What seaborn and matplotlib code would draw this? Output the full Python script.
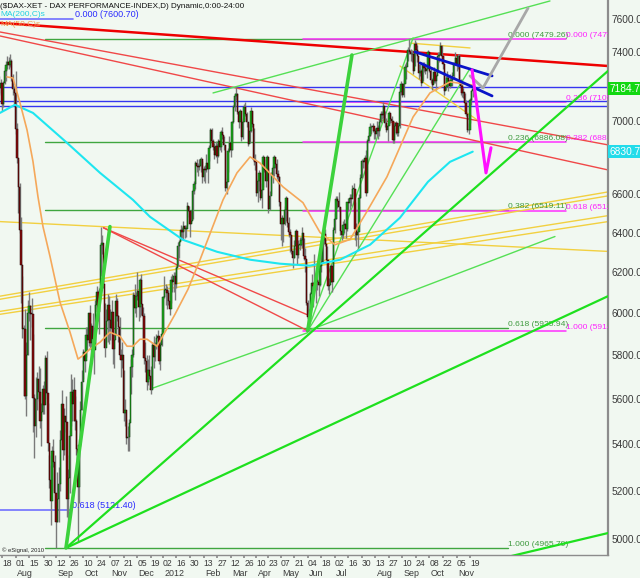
import numpy as np
import pandas as pd
import matplotlib
matplotlib.use("Agg")
import matplotlib.pyplot as plt
import matplotlib.transforms as mtrans
from matplotlib.ticker import FixedLocator, NullLocator, FuncFormatter
import seaborn as sns

# ---------------- data ----------------
holidays = ["2011-12-26", "2012-04-06", "2012-04-09", "2012-05-01"]

close = [
 7192, 7220,
 7096, 7216, 7290, 7324, 7344,
 7326, 7345, 7253, 7186, 7158,
 6954, 6797, 6637, 6414, 6236,
 5923, 5923, 5613, 5798, 5998,
 6034, 5995, 5994, 5602, 5480,
 5600, 5689, 5632, 5500, 5538,
 5645, 5572, 5785, 5627, 5405,
 5246, 5156, 5371, 5320, 5190,
 5072, 5166, 5227, 5417, 5574,
 5373, 5523, 5496, 5164, 5253,
 5434, 5628, 5577, 5639, 5502,
 5376, 5217, 5396, 5550, 5675,
 5815, 5772, 5896, 5870, 5999,
 5857, 5939, 5876, 5822, 6040,
 6103, 6006, 6095, 6338, 6346,
 6141, 5834, 5960, 6040, 5967,
 5929, 6006, 5829, 5868, 6057,
 5985, 5934, 5800, 5776, 5800,
 5534, 5549, 5424, 5428, 5493,
 5745, 5800, 6088, 6023, 6080,
 6106, 6028, 6159, 6044, 5987,
 5785, 5774, 5675, 5730, 5701,
 5640, 5847, 5791, 5850, 5878,
 5889, 5771, 5848, 5898,
 6075, 6111, 6112, 6095, 6057,
 6017, 6163, 6152, 6179, 6143,
 6220, 6332, 6354, 6416, 6404,
 6436, 6419, 6421, 6539, 6512,
 6444, 6458, 6616, 6655, 6766,
 6754, 6748, 6755, 6788, 6692,
 6737, 6728, 6770, 6735, 6849,
 6948, 6892, 6855, 6810, 6864,
 6809, 6887, 6856, 6941, 6921,
 6866, 6633, 6667, 6833, 6880,
 6842, 6995, 7079, 7144, 7157,
 7054, 6997, 7056, 6910, 6996,
 7079, 7038, 6998, 6875, 6947,
 7056, 6982, 6784, 6775,
 6606, 6674, 6716, 6583,
 6624, 6801, 6732, 6671, 6801,
 6523, 6590, 6704, 6739, 6801,
 6761, 6710, 6694, 6561,
 6444, 6475, 6444, 6518, 6579,
 6452, 6401, 6386, 6308, 6271,
 6332, 6406, 6284, 6339, 6339,
 6363, 6400, 6282, 6264, 6050,
 5978, 5970, 6093, 6144, 6131,
 6141, 6162, 6152, 6138, 6229,
 6248, 6363, 6392, 6343, 6263,
 6132, 6136, 6228, 6150, 6416,
 6472, 6578, 6566, 6535, 6410,
 6387, 6438, 6444, 6419, 6557,
 6553, 6579, 6574, 6630, 6630,
 6419, 6390, 6405, 6583, 6690,
 6778, 6772, 6795, 6606, 6889,
 6918, 6967, 6966, 6975, 6944,
 6929, 6964, 6947, 6996, 7041,
 7034, 7089, 6990, 6950, 6971,
 7048, 7014, 7003, 6896, 6971,
 6990, 6932, 6975, 7167, 7214,
 7152, 7210, 7311, 7310, 7412,
 7403, 7388, 7390, 7290, 7451,
 7413, 7380, 7276, 7290, 7216,
 7326, 7305, 7291, 7298, 7398,
 7291, 7234, 7205, 7281, 7233,
 7262, 7376, 7381, 7437, 7380,
 7328, 7173, 7196, 7248, 7232,
 7203, 7238, 7260, 7335, 7364,
 7327, 7377, 7232, 7204, 7163,
 7169, 7101, 7043, 6950, 6951,
 7123, 7172, 7184.71,
]

high = [
 7260, 7240,
 7190, 7230, 7310, 7350, 7380,
 7370, 7390, 7360, 7270, 7200,
 7290, 6990, 6790, 6660, 6480,
 6180, 5940, 6020, 5860, 6060,
 6100, 6040, 6070, 5900, 5620,
 5700, 5720, 5750, 5740, 5580,
 5660, 5680, 5800, 5820, 5580,
 5350, 5310, 5390, 5420, 5350,
 5170, 5280, 5300, 5460, 5640,
 5480, 5560, 5610, 5350, 5290,
 5460, 5710, 5690, 5700, 5610,
 5510, 5360, 5420, 5590, 5730,
 5830, 5820, 5930, 5930, 6000,
 6040, 5950, 6000, 5900, 6060,
 6130, 6110, 6120, 6430, 6390,
 6300, 6050, 6020, 6090, 6080,
 6020, 6060, 5960, 5900, 6090,
 6070, 5990, 5980, 5830, 5860,
 5730, 5600, 5510, 5480, 5510,
 5780, 5830, 6100, 6140, 6100,
 6200, 6100, 6170, 6190, 6030,
 6000, 5860, 5800, 5780, 5800,
 5750, 5860, 5890, 5860, 5900,
 5920, 5890, 5860, 5920,
 6080, 6180, 6140, 6130, 6110,
 6090, 6180, 6190, 6200, 6200,
 6230, 6350, 6360, 6440, 6430,
 6460, 6440, 6440, 6560, 6540,
 6500, 6520, 6630, 6670, 6780,
 6790, 6770, 6790, 6800, 6780,
 6750, 6760, 6820, 6760, 6870,
 6960, 6960, 6900, 6880, 6890,
 6880, 6900, 6930, 6950, 6970,
 6920, 6840, 6690, 6850, 6920,
 6880, 7000, 7090, 7160, 7194,
 7160, 7040, 7070, 7020, 7000,
 7100, 7110, 7050, 6990, 6980,
 7080, 7060, 6960, 6820,
 6760, 6690, 6730, 6720,
 6660, 6810, 6790, 6760, 6810,
 6740, 6620, 6720, 6760, 6810,
 6800, 6790, 6730, 6700,
 6470, 6490, 6460, 6540, 6590,
 6510, 6480, 6420, 6390, 6310,
 6360, 6420, 6390, 6360, 6380,
 6380, 6430, 6370, 6320, 6260,
 6060, 6020, 6100, 6190, 6150,
 6290, 6180, 6200, 6160, 6250,
 6330, 6370, 6420, 6420, 6330,
 6210, 6170, 6240, 6230, 6430,
 6500, 6590, 6590, 6610, 6530,
 6440, 6460, 6470, 6450, 6560,
 6580, 6600, 6600, 6650, 6660,
 6560, 6450, 6420, 6600, 6710,
 6790, 6790, 6810, 6840, 6900,
 6940, 6990, 6980, 6990, 6960,
 6960, 7000, 6980, 7010, 7060,
 7060, 7110, 7060, 7020, 6980,
 7060, 7040, 7030, 7000, 6990,
 7000, 6990, 6990, 7180, 7230,
 7220, 7240, 7330, 7340, 7430,
 7479, 7420, 7410, 7380, 7470,
 7460, 7440, 7330, 7330, 7300,
 7340, 7340, 7320, 7320, 7410,
 7370, 7310, 7250, 7310, 7290,
 7270, 7400, 7400, 7460, 7440,
 7380, 7290, 7260, 7290, 7260,
 7270, 7260, 7280, 7340, 7400,
 7360, 7390, 7390, 7240, 7210,
 7190, 7160, 7120, 7040, 6990,
 7130, 7180, 7200,
]

low = [
 7150, 7160,
 7060, 7080, 7210, 7230, 7300,
 7300, 7310, 7230, 7150, 7090,
 6930, 6770, 6500, 6400, 6050,
 5880, 5610, 5600, 5520, 5800,
 5960, 5870, 5930, 5450, 5340,
 5430, 5550, 5590, 5470, 5390,
 5530, 5530, 5620, 5600, 5370,
 5210, 5060, 5200, 5300, 5130,
 4966, 5070, 5070, 5200, 5440,
 5330, 5350, 5450, 5090, 5020,
 5190, 5480, 5500, 5500, 5460,
 5350, 4990, 5150, 5390, 5550,
 5690, 5720, 5790, 5820, 5840,
 5830, 5780, 5850, 5710, 5850,
 6020, 5960, 5900, 6180, 6290,
 6120, 5790, 5860, 5860, 5850,
 5870, 5900, 5760, 5740, 5900,
 5960, 5860, 5780, 5700, 5740,
 5500, 5480, 5400, 5370, 5370,
 5620, 5700, 5790, 6000, 5980,
 6060, 5960, 5980, 5990, 5870,
 5760, 5720, 5640, 5660, 5690,
 5620, 5660, 5740, 5770, 5830,
 5850, 5760, 5730, 5840,
 5900, 6070, 6040, 6020, 6040,
 5990, 6050, 6100, 6100, 6060,
 6120, 6230, 6270, 6360, 6370,
 6360, 6370, 6380, 6440, 6480,
 6380, 6450, 6470, 6600, 6630,
 6720, 6700, 6730, 6720, 6660,
 6670, 6660, 6720, 6660, 6780,
 6880, 6860, 6840, 6790, 6800,
 6770, 6800, 6840, 6830, 6900,
 6840, 6620, 6600, 6720, 6830,
 6800, 6840, 6990, 7060, 7120,
 7040, 6960, 7000, 6890, 6900,
 7000, 7030, 6970, 6860, 6880,
 6940, 6970, 6760, 6730,
 6590, 6560, 6620, 6570,
 6530, 6640, 6720, 6640, 6700,
 6500, 6520, 6600, 6660, 6700,
 6740, 6680, 6660, 6540,
 6360, 6330, 6350, 6440, 6460,
 6430, 6380, 6300, 6290, 6220,
 6270, 6330, 6240, 6270, 6310,
 6330, 6320, 6260, 6200, 6040,
 5914, 5940, 5990, 6070, 6030,
 6130, 6050, 6110, 6080, 6130,
 6200, 6250, 6340, 6330, 6220,
 6110, 6090, 6150, 6100, 6230,
 6400, 6470, 6530, 6510, 6390,
 6360, 6370, 6400, 6370, 6410,
 6520, 6520, 6540, 6590, 6560,
 6360, 6330, 6320, 6440, 6580,
 6690, 6740, 6740, 6590, 6620,
 6890, 6920, 6930, 6940, 6900,
 6900, 6920, 6900, 6920, 6990,
 7010, 7020, 6970, 6940, 6890,
 6980, 6990, 6980, 6880, 6880,
 6930, 6920, 6920, 6960, 7150,
 7140, 7140, 7220, 7240, 7350,
 7390, 7350, 7340, 7270, 7320,
 7390, 7340, 7240, 7260, 7200,
 7230, 7280, 7270, 7250, 7320,
 7280, 7220, 7180, 7220, 7220,
 7180, 7280, 7340, 7390, 7360,
 7300, 7150, 7180, 7210, 7170,
 7190, 7200, 7200, 7240, 7330,
 7290, 7300, 7210, 7150, 7140,
 7130, 7060, 7030, 6940, 6930,
 6990, 7090, 7140,
]

# moving averages (bar index, value)
ma200_x = [0.5, 11.6, 24.9, 50.1, 74.5, 98.8, 111.4, 135.8, 161, 185.4, 207.5,
           229.7, 251.9, 274.1, 296.2, 316.9, 333.2, 350]
ma200_y = [7047, 7093, 7047, 6879, 6715, 6571, 6482, 6363, 6302, 6262, 6242,
           6232, 6262, 6338, 6477, 6667, 6775, 6830.72]
ma50_x = [5.7, 10.1, 15.3, 20.5, 24.9, 28.6, 32.3, 37.5, 44.9, 52.3, 58.2, 61.9,
          67.1, 74.5, 81.8, 89.2, 94.4, 98.8, 104, 109.2, 116.6, 129.9, 139.5,
          148.4, 165.4, 175.7, 185.4, 192.7, 209.7, 224.5, 237.1, 248.2, 259.3,
          270.4, 286.6, 305.9, 318.4, 333.2, 349.5]
ma50_y = [7254, 7248, 7104, 6951, 6777, 6587, 6431, 6278, 6051, 5907, 5781, 5798,
          5828, 5860, 5907, 5888, 5841, 5841, 5874, 5874, 5841, 5993, 6115,
          6262, 6571, 6715, 6802, 6769, 6640, 6556, 6401, 6338, 6365,
          6493, 6694, 7024, 7161, 7225, 7207]

# fibonacci levels
fib_green = [("0.000", 7479.26), ("0.236", 6886.08), ("0.382", 6519.11),
             ("0.618", 5925.94), ("1.000", 4965.79)]
fib_magenta = [("0.000", 7479.26), ("0.236", 7109.96), ("0.382", 6881.50),
               ("0.618", 6512.20), ("1.000", 5914.43)]
fib_blue = [("0.000", 7600.70), ("0.618", 5121.40)]
blue_levels = [7196, 7115, 7087]

# trend lines: (bar index, price) pairs
red_thick = [[(0.5, 7576), (450, 7318)]]
red_thin = [[(0.5, 7521), (450, 6868)], [(0.5, 7497), (450, 6731)],
            [(77, 6425), (228, 5914)], [(77, 6425), (228, 5990)]]
yellow = [[(0.5, 6457), (450, 6304)], [(0.5, 6081), (450, 6613)],
          [(0.5, 6066), (450, 6592)], [(0.5, 6007), (450, 6488)],
          [(0.5, 5993), (450, 6457)], [(296.2, 7318), (355.4, 6996)],
          [(303.6, 7454), (348, 7425)]]
navy = [[(307.3, 7401), (364.3, 7260)], [(311, 7336), (364.3, 7144)]]
gray_path = [(348, 7260), (357.6, 7190), (390.9, 7667)]
magenta_path = [(349.5, 7295), (359.8, 6715), (363.5, 6852)]
green_thick = [[(49.3, 4966), (81.8, 6431)], [(228, 5914), (260.7, 7383)]]
green_bright = [[(49.3, 4966), (450, 7289)], [(49.3, 4966), (450, 6081)],
                [(348, 4895), (450, 5026)]]
green_light = [[(158, 7161), (407.1, 7711)], [(228, 5914), (410.8, 6380)],
               [(111.4, 5643), (228, 5905)], [(228, 5914), (348, 7303)],
               [(228, 5914), (305.9, 7485)]]

tick_dates = ["2011-07-18", "2011-08-01", "2011-08-15", "2011-08-30", "2011-09-12",
              "2011-09-26", "2011-10-10", "2011-10-24", "2011-11-07", "2011-11-21",
              "2011-12-05", "2011-12-19", "2012-01-02", "2012-01-16", "2012-01-30",
              "2012-02-13", "2012-02-27", "2012-03-12", "2012-03-26", "2012-04-10",
              "2012-04-23", "2012-05-07", "2012-05-21", "2012-06-04", "2012-06-18",
              "2012-07-02", "2012-07-16", "2012-07-30", "2012-08-13", "2012-08-27",
              "2012-09-10", "2012-09-24", "2012-10-08", "2012-10-22", "2012-11-05",
              "2012-11-19"]
month_labels = [("2011-08-01", "Aug"), ("2011-09-12", "Sep"), ("2011-10-10", "Oct"),
                ("2011-11-07", "Nov"), ("2011-12-05", "Dec"), ("2012-01-02", "2012"),
                ("2012-02-13", "Feb"), ("2012-03-12", "Mar"), ("2012-04-10", "Apr"),
                ("2012-05-07", "May"), ("2012-06-04", "Jun"), ("2012-07-02", "Jul"),
                ("2012-08-13", "Aug"), ("2012-09-10", "Sep"), ("2012-10-08", "Oct"),
                ("2012-11-05", "Nov")]
y_ticks = [5000, 5200, 5400, 5600, 5800, 6000, 6200, 6400, 6600, 7000,
           7400, 7600]

# ---------------- figure ----------------
sns.set_theme(style="white")
plt.rcParams["font.family"] = ["Liberation Sans", "DejaVu Sans"]

BG = "#f1f8f1"
fig = plt.figure(figsize=(6.4, 5.78), dpi=100, facecolor=BG)
ax = fig.add_axes([0, 23 / 578, 608 / 640, 555 / 578])
ax.set_facecolor(BG)

dates = [d for d in pd.bdate_range("2011-07-14", "2012-11-21")
         if d.strftime("%Y-%m-%d") not in holidays]
n = min(len(dates), len(close), len(high), len(low))
didx = {d.strftime("%Y-%m-%d"): i for i, d in enumerate(dates)}
df = pd.DataFrame({"x": np.arange(n), "close": close[:n],
                   "high": high[:n], "low": low[:n]})
df["open"] = df["close"].shift(1).fillna(df["close"].iloc[0])

ax.set_yscale("log")
ax.set_xlim(0.52, 450.0)
ax.set_ylim(4938, 7717)

FIBFS = 6.1
# horizontal fib lines
x_green0, x_green1 = 33.8, 376.1
for lab, v in fib_green:
    ax.plot([x_green0, x_green1], [v, v], color="#3fa63f", lw=1.0, zorder=1)
    ax.text(x_green1 + 0.3, v, f"{lab} ({v:.2f})", color="#3f9a3f", fontsize=FIBFS,
            va="bottom", ha="left", clip_on=True, zorder=6)
x_mag0, x_mag1 = 224.5, 419.0
for lab, v in fib_magenta:
    ax.plot([x_mag0, x_mag1], [v, v], color="#ff30ff", lw=1.1, zorder=1)
    ax.text(x_mag1 + 0.3, v, f"{lab} ({v:.2f})", color="#ff20ff", fontsize=FIBFS,
            va="bottom", ha="left", clip_on=True, zorder=6)
for v in blue_levels:
    ax.axhline(v, color="#3535f0", lw=1.0, zorder=1)
for (lab, v), xe in zip(fib_blue, [54.5, 52.3]):
    ax.plot([0.5, xe], [v, v], color="#7070ff", lw=1.2, zorder=1)
    ax.text(xe + 1.2, v, f"{lab} ({v:.2f})", color="#2a2aff", fontsize=FIBFS + 0.4,
            va="bottom", ha="left", zorder=6)

def draw_lines(lines, color, lw, z):
    for seg in lines:
        xs = [p[0] for p in seg]
        ys = [p[1] for p in seg]
        ax.plot(xs, ys, color=color, lw=lw, zorder=z, solid_capstyle="round")

draw_lines(yellow, "#f2d040", 1.0, 2)
draw_lines(red_thin, "#f04848", 1.0, 2)
draw_lines(red_thick, "#ee0000", 1.8, 2)
draw_lines(green_light, "#55e055", 1.0, 2)

# candles
up = df["close"] >= df["open"]
ax.vlines(df["x"], df["low"], df["high"], color="#7a7a7a", lw=1.0, zorder=3)
body_lo = np.minimum(df["open"], df["close"])
body_h = np.abs(df["close"] - df["open"]).clip(lower=3)
ax.bar(df["x"][up], body_h[up], bottom=body_lo[up], width=0.95,
       color="#1fae1f", edgecolor="#0a3a0a", linewidth=0.35, zorder=4)
ax.bar(df["x"][~up], body_h[~up], bottom=body_lo[~up], width=0.95,
       color="#8a0d0d", edgecolor="#200000", linewidth=0.35, zorder=4)

# moving averages
sns.lineplot(x=ma200_x, y=ma200_y, ax=ax, color="#1ee6f0", lw=1.5, sort=False,
             zorder=5, legend=False)
sns.lineplot(x=ma50_x, y=ma50_y, ax=ax, color="#f5a85a", lw=1.2, sort=False,
             zorder=5, legend=False)

draw_lines(green_bright, "#1ee01e", 1.6, 6)
draw_lines(green_thick, "#3cd23c", 2.6, 6)
draw_lines(navy, "#0a14c8", 2.0, 6)
draw_lines([gray_path], "#a8a8a8", 2.0, 6)
draw_lines([magenta_path], "#ff10ff", 2.2, 6)

# axes styling
for s in ["left", "top"]:
    ax.spines[s].set_visible(False)
ax.spines["right"].set_color("#8c8c8c")
ax.spines["right"].set_linewidth(1.6)
ax.spines["bottom"].set_color("#8c8c8c")
ax.spines["bottom"].set_linewidth(1.0)

ax.yaxis.tick_right()
ax.yaxis.set_major_locator(FixedLocator(y_ticks))
ax.yaxis.set_minor_locator(NullLocator())
ax.yaxis.set_major_formatter(FuncFormatter(lambda v, p: f"{v:.2f}"))
ax.tick_params(axis="y", length=0, pad=2.5, labelsize=7.3, labelcolor="#3a3a3a")

tpos = [didx[d] for d in tick_dates]
ax.set_xticks(tpos)
ax.set_xticklabels([d[-2:] for d in tick_dates], ha="left")
ax.xaxis.set_minor_locator(NullLocator())
ax.tick_params(axis="x", length=2, pad=1.0, labelsize=6.2, labelcolor="#3a3a3a",
               color="#8c8c8c", direction="out", bottom=True)
xtrans = mtrans.blended_transform_factory(ax.transData, ax.transAxes)
for d, lab in month_labels:
    ax.text(didx[d] + 1.0, -18.5 / 555, lab, transform=xtrans, fontsize=6.4,
            color="#3a3a3a", ha="left", va="center", clip_on=False)

# last-value boxes
ytrans = mtrans.blended_transform_factory(ax.transAxes, ax.transData)
ax.text(1.003, 7184.71, "7184.71", transform=ytrans, fontsize=7.3, color="white",
        ha="left", va="center", zorder=10, clip_on=False,
        bbox=dict(facecolor="#12d812", edgecolor="none", pad=1.2))
ax.text(1.003, 6830.72, "6830.72", transform=ytrans, fontsize=7.3, color="white",
        ha="left", va="center", zorder=10, clip_on=False,
        bbox=dict(facecolor="#22dcea", edgecolor="none", pad=1.2))

# header texts
ax.text(0.0, 1 - 6 / 555, "($DAX-XET - DAX PERFORMANCE-INDEX,D) Dynamic,0:00-24:00",
        transform=ax.transAxes, fontsize=5.9, color="#111111", ha="left", va="center",
        zorder=10)
ax.text(0.0, 1 - 15 / 555, "MA(200,C)s", transform=ax.transAxes, fontsize=6.0,
        color="#22d0e0", ha="left", va="center", zorder=10)
ax.text(0.0, 1 - 25 / 555, "MA(50,C)s", transform=ax.transAxes, fontsize=6.0,
        color="#f0a050", ha="left", va="center", zorder=10)
ax.text(0.003, 1 - 550 / 555, "\u00a9 eSignal, 2010", transform=ax.transAxes,
        fontsize=4.2, color="#222222", ha="left", va="center", zorder=10)

fig.savefig("out.png", dpi=100, facecolor=BG)
